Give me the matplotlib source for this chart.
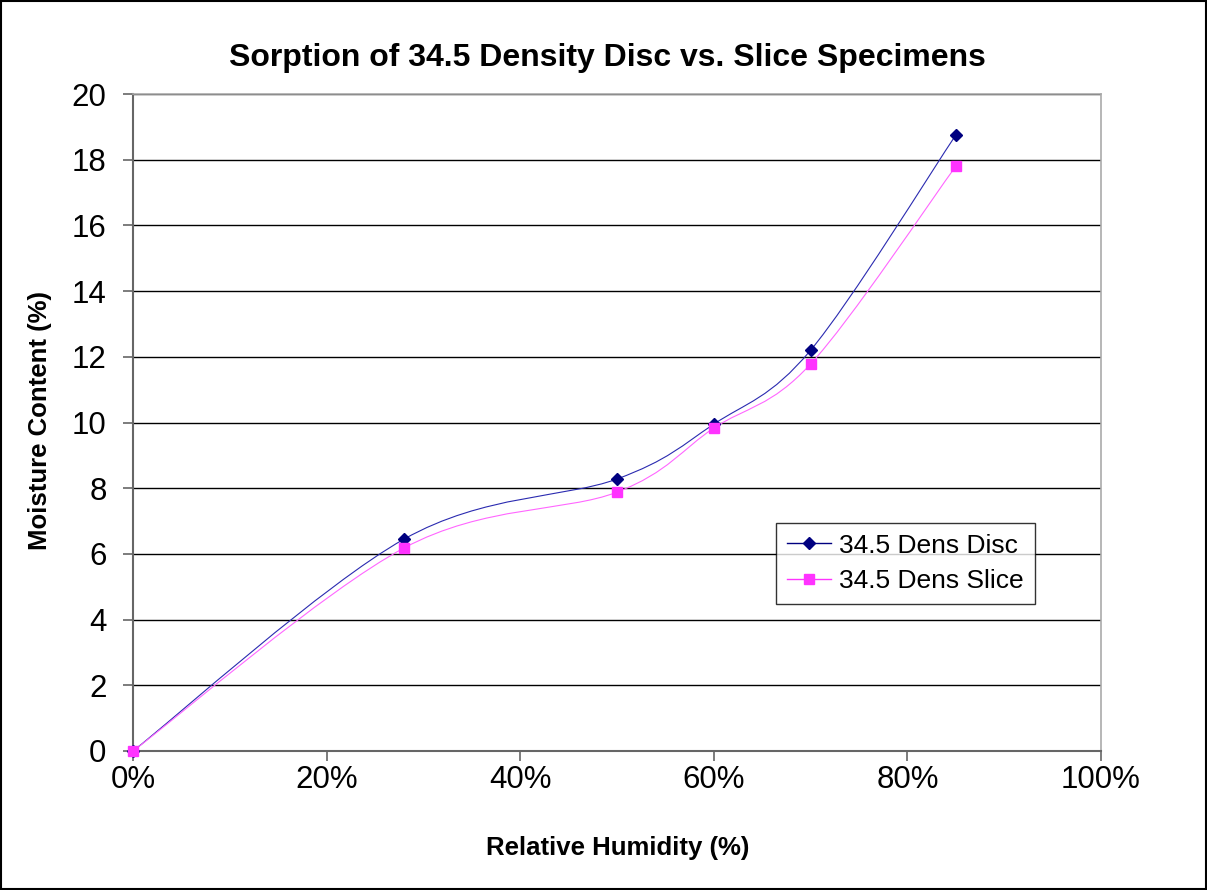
import numpy as np
import matplotlib.pyplot as plt
from matplotlib.path import Path
from matplotlib.patches import PathPatch, Rectangle
from matplotlib.lines import Line2D

plt.rcParams['font.family'] = ['Liberation Sans', 'DejaVu Sans']

rh = [0.0, 0.28, 0.50, 0.60, 0.70, 0.85]
disc = [0.0, 6.45, 8.28, 9.95, 12.2, 18.75]
slice_ = [0.0, 6.18, 7.88, 9.83, 11.78, 17.8]


def smooth_path(ax, x, y):
    # Excel-like smoothed line: cubic Bezier through the points
    x = np.asarray(x, float)
    y = np.asarray(y, float)
    pts = ax.transData.transform(np.column_stack([x, y]))
    verts = [pts[0]]
    codes = [Path.MOVETO]
    n = len(pts)
    for i in range(n - 1):
        p0 = pts[i - 1] if i > 0 else pts[i]
        p1 = pts[i]
        p2 = pts[i + 1]
        p3 = pts[i + 2] if i + 2 < n else pts[i + 1]
        c1 = p1 + (p2 - p0) / 6.0
        c2 = p2 - (p3 - p1) / 6.0
        verts += [c1, c2, p2]
        codes += [Path.CURVE4] * 3
    return Path(verts, codes)


W, H = 1207, 890
fig = plt.figure(figsize=(W / 100, H / 100), dpi=100)
ax = fig.add_axes([133 / W, 1 - 751 / H, (1101 - 133) / W, (751 - 94) / H])

ax.set_xlim(0, 1)
ax.set_ylim(0, 20)
ax.set_xticks(np.arange(0, 1.01, 0.2))
ax.set_xticklabels(['0%', '20%', '40%', '60%', '80%', '100%'])
ax.set_yticks(np.arange(0, 21, 2))
ax.tick_params(axis='both', labelsize=22.5, colors='#666666', labelcolor='black',
               length=7, width=1.2, direction='out')
ax.tick_params(axis='x', pad=3)
ax.tick_params(axis='y', pad=12)
ax.yaxis.grid(True, color='black', linewidth=1)
ax.set_axisbelow(True)
for s in ['left', 'bottom']:
    ax.spines[s].set_color('#666666')
    ax.spines[s].set_linewidth(1.5)
for s in ['top', 'right']:
    ax.spines[s].set_color('#aaaaaa')
    ax.spines[s].set_linewidth(1.2)

fig.canvas.draw()

p1 = smooth_path(ax, rh, disc)
ax.add_patch(PathPatch(p1, transform=None, facecolor='none', edgecolor='#2a2ab0',
                       linewidth=0.8, clip_on=False, zorder=3))
p2 = smooth_path(ax, rh, slice_)
ax.add_patch(PathPatch(p2, transform=None, facecolor='none', edgecolor='#ff66ff',
                       linewidth=0.8, clip_on=False, zorder=3))
ax.plot(rh, disc, linestyle='none', marker='D', markersize=6.5, color='#000080',
        clip_on=False, zorder=4)
ax.plot(rh, slice_, linestyle='none', marker='s', markersize=7.5, color='#ff33ff',
        clip_on=False, zorder=4)

handles = [Line2D([], [], color='#000080', lw=1, marker='D', markersize=6),
           Line2D([], [], color='#ff33ff', lw=1, marker='s', markersize=7.5)]
leg = ax.legend(handles, ['34.5 Dens Disc', '34.5 Dens Slice'], loc='upper left',
                bbox_to_anchor=((776 - 133) / 968, 1 - (523 - 94) / 657),
                fontsize=19, frameon=True, fancybox=False, handlelength=1.7,
                handletextpad=0.3, borderpad=0.4, labelspacing=0.45,
                borderaxespad=0)
leg.get_frame().set_edgecolor('black')
leg.get_frame().set_linewidth(1)

fig.text(607 / W, 1 - 58 / H, 'Sorption of 34.5 Density Disc vs. Slice Specimens',
         fontsize=23, fontweight='bold', ha='center', va='center')
fig.text(618 / W, 1 - 848 / H, 'Relative Humidity (%)', fontsize=18.5,
         fontweight='bold', ha='center', va='center')
fig.text(40 / W, 1 - 421 / H, 'Moisture Content (%)', fontsize=18.5,
         fontweight='bold', ha='center', va='center', rotation=90)

fig.patches.append(Rectangle((0.001, 0.001), 0.998, 0.998, transform=fig.transFigure,
                             fill=False, edgecolor='black', linewidth=1.5))

fig.savefig('out.png', dpi=100)
